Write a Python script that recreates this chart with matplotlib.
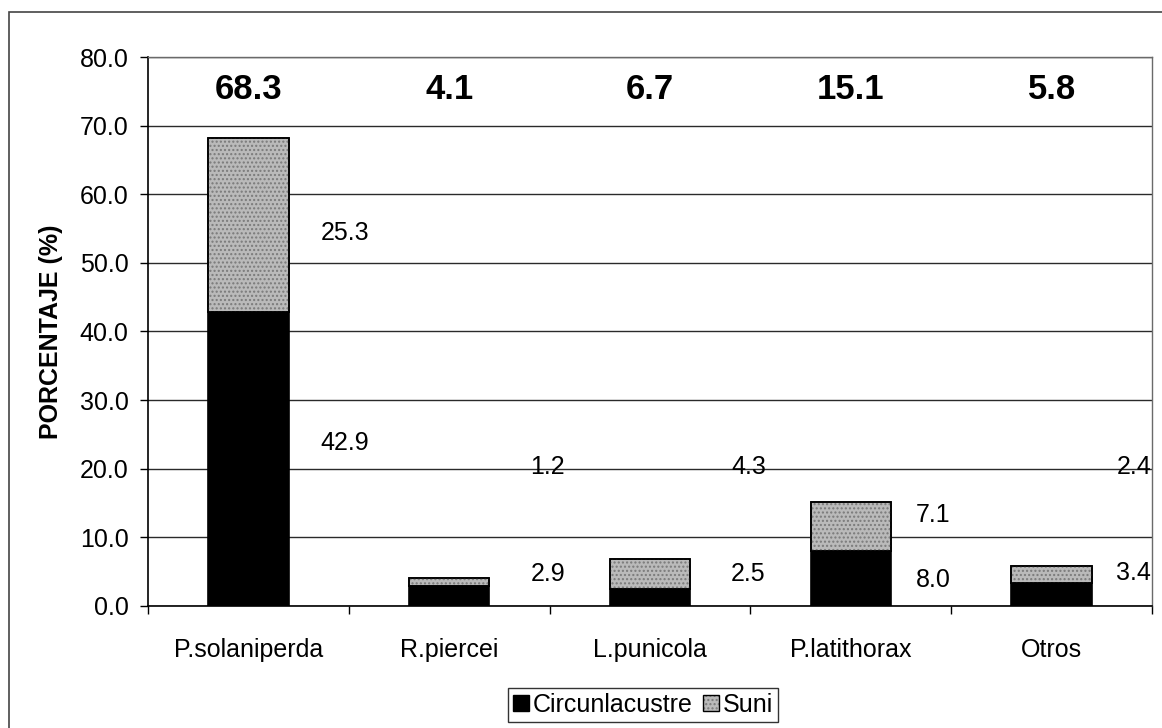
import numpy as np
import matplotlib.pyplot as plt
from matplotlib.patches import Patch, Rectangle
from matplotlib.legend_handler import HandlerTuple

plt.rcParams['font.family'] = ['Liberation Sans', 'DejaVu Sans']
plt.rcParams['hatch.linewidth'] = 1.0

# Species and percentage per zone
especies = ['P.solaniperda', 'R.piercei', 'L.punicola', 'P.latithorax', 'Otros']
circunlacustre = [42.9, 2.9, 2.5, 8.0, 3.4]
suni = [25.3, 1.2, 4.3, 7.1, 2.4]
totales = [68.3, 4.1, 6.7, 15.1, 5.8]

# where the segment labels sit (x offset from bar centre, y in data units)
lab_dx = [0.48, 0.49, 0.49, 0.41, 0.41]
lab_y_circ = [23.8, 4.7, 4.7, 3.8, 4.8]
lab_y_suni = [54.4, 20.3, 20.3, 13.3, 20.3]

x = np.arange(len(especies))
w = 0.40
fs = 18
suni_gray = '#bababa'
tex_gray = '#7a7a7a'

fig = plt.figure(figsize=(11.62, 7.28), dpi=100)
ax = fig.add_axes([0.1274, 0.1676, 0.8640, 0.7541])

ax.yaxis.grid(True, color='#2a2a2a', lw=1.0)
ax.set_axisbelow(True)

ax.bar(x, circunlacustre, w, color='black', edgecolor='black', lw=1.2, zorder=2)
ax.bar(x, suni, w, bottom=circunlacustre, color=suni_gray, edgecolor='black',
       lw=1.2, zorder=2)
# mottled texture on top of the Suni segments
ax.bar(x, suni, w, bottom=circunlacustre, color='none', edgecolor=tex_gray,
       hatch='....', lw=0, zorder=3)
ax.bar(x, suni, w, bottom=circunlacustre, color='none', edgecolor='black',
       lw=1.2, zorder=4)

for i in range(len(x)):
    ax.text(x[i] + lab_dx[i], lab_y_circ[i], f'{circunlacustre[i]:.1f}',
            ha='center', va='center', fontsize=fs)
    ax.text(x[i] + lab_dx[i], lab_y_suni[i], f'{suni[i]:.1f}',
            ha='center', va='center', fontsize=fs)
    ax.text(x[i], 75.2, f'{totales[i]:.1f}', ha='center', va='center',
            fontsize=25, fontweight='bold')

ax.set_xlim(-0.5, len(x) - 0.5)
ax.set_ylim(0, 80)
ax.set_yticks(np.arange(0, 81, 10))
ax.set_yticklabels([f'{v:.1f}' for v in np.arange(0, 81, 10)], fontsize=fs)
ax.tick_params(axis='y', length=6, width=1, pad=8)

ax.set_xticks(x)
ax.set_xticklabels(especies, fontsize=fs)
ax.set_xticks(np.arange(-0.5, len(x), 1), minor=True)
ax.tick_params(axis='x', which='major', length=0, pad=23)
ax.tick_params(axis='x', which='minor', length=6, width=1)

ax.set_ylabel('PORCENTAJE (%)', fontsize=fs, fontweight='bold')
ax.yaxis.set_label_coords(-0.085, 0.5)

for s in ['left', 'bottom']:
    ax.spines[s].set_color('black')
    ax.spines[s].set_linewidth(1.2)
for s in ['top', 'right']:
    ax.spines[s].set_color('#6a6a6a')
    ax.spines[s].set_linewidth(1.0)

# legend with the textured Suni swatch
h_circ = Patch(facecolor='black', edgecolor='black')
h_suni = (Patch(facecolor=suni_gray, edgecolor=tex_gray, hatch='....', lw=0),
          Patch(facecolor='none', edgecolor='black', lw=1))
leg = fig.legend([h_circ, h_suni], ['Circunlacustre', 'Suni'],
                 handler_map={tuple: HandlerTuple(ndivide=1)},
                 loc='center', bbox_to_anchor=(643 / 1162, 1 - 705 / 728),
                 ncol=2, fontsize=fs, frameon=True, fancybox=False,
                 handlelength=0.62, handleheight=0.62, handletextpad=0.15,
                 columnspacing=0.45, borderpad=0.2, borderaxespad=0)
leg.get_frame().set_edgecolor('black')
leg.get_frame().set_linewidth(1.0)

# outer chart frame
fig.patches.append(Rectangle((9 / 1162, -0.05), 1.1, 1 - 12 / 728 + 0.05,
                             transform=fig.transFigure, fill=False,
                             edgecolor='#444444', lw=1.2))

fig.savefig('out.png', dpi=100)
